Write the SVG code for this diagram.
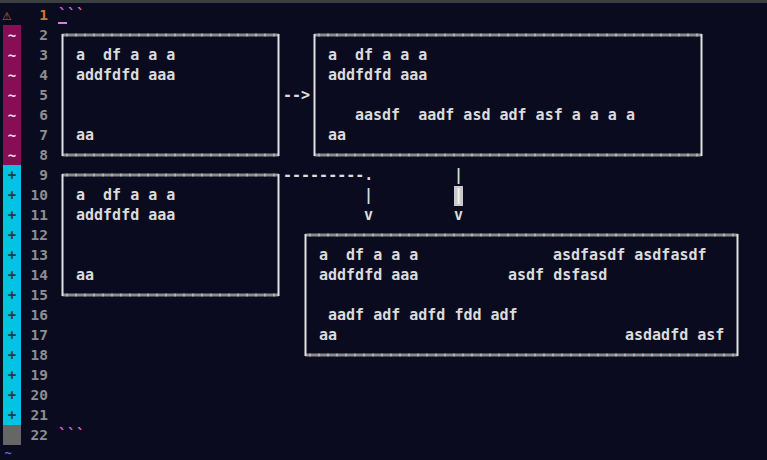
<svg xmlns="http://www.w3.org/2000/svg" width="767" height="460" viewBox="0 0 767 460">
<style>
.t{font-family:"DejaVu Sans Mono","Liberation Mono",monospace;font-weight:bold;font-size:15px;fill:#dcdcdc;white-space:pre}
.ln{font-family:"DejaVu Sans Mono","Liberation Mono",monospace;font-weight:bold;font-size:14.5px;fill:#8e8e8e;text-anchor:end}
.sg{font-family:"DejaVu Sans Mono","Liberation Mono",monospace;font-weight:bold;font-size:14px;text-anchor:middle}
.h{fill:none;stroke:#8a8a8a;stroke-width:3}
.hd{fill:none;stroke:#d6d6d6;stroke-width:3;stroke-dasharray:1 8}
.v{fill:none;stroke:#e2e2e2;stroke-width:2}
.pk{fill:#e463d2}
</style>
<rect x="0" y="0" width="767" height="460" fill="#0a0b1f"/>
<rect x="0" y="0" width="767" height="3" fill="#3c3f40"/>
<g id="gutter">
<text x="2" y="20" font-family="DejaVu Sans,sans-serif" font-size="11" fill="#c86a30">⚠</text>
<rect x="3" y="25" width="18" height="140" fill="#870d55"/>
<rect x="3" y="165" width="18" height="260" fill="#02c3e3"/>
<rect x="3" y="425" width="18" height="20" fill="#666666"/>
<g class="sg" fill="#f0e0ea">
<text x="12" y="40">~</text><text x="12" y="60">~</text><text x="12" y="80">~</text><text x="12" y="100">~</text><text x="12" y="120">~</text><text x="12" y="140">~</text><text x="12" y="160">~</text>
</g>
<g class="sg" fill="#1e3a42">
<text x="12" y="180">+</text><text x="12" y="200">+</text><text x="12" y="220">+</text><text x="12" y="240">+</text><text x="12" y="260">+</text><text x="12" y="280">+</text><text x="12" y="300">+</text><text x="12" y="320">+</text><text x="12" y="340">+</text><text x="12" y="360">+</text><text x="12" y="380">+</text><text x="12" y="400">+</text><text x="12" y="420">+</text>
</g>
<text x="8" y="457" font-family="DejaVu Sans Mono,monospace" font-weight="bold" font-size="12" text-anchor="middle" fill="#5f6fe0">~</text>
<text class="ln" x="48" y="20" style="fill:#d0782e">1</text>
<text class="ln" x="48" y="40">2</text><text class="ln" x="48" y="60">3</text><text class="ln" x="48" y="80">4</text><text class="ln" x="48" y="100">5</text><text class="ln" x="48" y="120">6</text><text class="ln" x="48" y="140">7</text><text class="ln" x="48" y="160">8</text><text class="ln" x="48" y="180">9</text><text class="ln" x="48" y="200">10</text><text class="ln" x="48" y="220">11</text><text class="ln" x="48" y="240">12</text><text class="ln" x="48" y="260">13</text><text class="ln" x="48" y="280">14</text><text class="ln" x="48" y="300">15</text><text class="ln" x="48" y="320">16</text><text class="ln" x="48" y="340">17</text><text class="ln" x="48" y="360">18</text><text class="ln" x="48" y="380">19</text><text class="ln" x="48" y="400">20</text><text class="ln" x="48" y="420">21</text><text class="ln" x="48" y="440">22</text>
</g>
<g id="fence">
<text class="t pk" x="58" y="20">```</text>
<rect x="58" y="22" width="9" height="2" fill="#e07ce0"/>
<text class="t pk" x="58" y="440">```</text>
</g>
<g id="box-a">
<path class="h" d="M62.5 35H278.5M62.5 155H278.5"/>
<path class="hd" d="M66.5 35H275M66.5 155H275"/>
<path class="v" d="M62.5 34V156M278.5 34V156"/>
<text class="t" x="76" y="60">a  df a a a</text>
<text class="t" x="76" y="80">addfdfd aaa</text>
<text class="t" x="76" y="140">aa</text>
</g>
<g id="box-b">
<path class="h" d="M314.5 35H701.5M314.5 155H701.5"/>
<path class="hd" d="M318.5 35H698M318.5 155H698"/>
<path class="v" d="M314.5 34V156M701.5 34V156"/>
<text class="t" x="328" y="60">a  df a a a</text>
<text class="t" x="328" y="80">addfdfd aaa</text>
<text class="t" x="355" y="120">aasdf  aadf asd adf asf a a a a</text>
<text class="t" x="328" y="140">aa</text>
</g>
<g id="box-c">
<path class="h" d="M62.5 175H278.5M62.5 295H278.5"/>
<path class="hd" d="M66.5 175H275M66.5 295H275"/>
<path class="v" d="M62.5 174V296M278.5 174V296"/>
<text class="t" x="76" y="200">a  df a a a</text>
<text class="t" x="76" y="220">addfdfd aaa</text>
<text class="t" x="76" y="280">aa</text>
</g>
<g id="box-d">
<path class="h" d="M305.5 235H737.5M305.5 355H737.5"/>
<path class="hd" d="M309.5 235H734M309.5 355H734"/>
<path class="v" d="M305.5 234V356M737.5 234V356"/>
<text class="t" x="319" y="260">a  df a a a</text>
<text class="t" x="553" y="260">asdfasdf asdfasdf</text>
<text class="t" x="319" y="280">addfdfd aaa</text>
<text class="t" x="508" y="280">asdf dsfasd</text>
<text class="t" x="328" y="320">aadf adf adfd fdd adf</text>
<text class="t" x="319" y="340">aa</text>
<text class="t" x="625" y="340">asdadfd asf</text>
</g>
<g id="connectors">
<text class="t" x="283" y="100">--&gt;</text>
<text class="t" x="283" y="180">---------.</text>
<text class="t" x="364" y="200">|</text>
<text class="t" x="364" y="220">v</text>
<text class="t" x="454" y="180">|</text>
<rect x="454" y="186" width="9" height="20" fill="#c9c9c9"/>
<text class="t" x="454" y="200" style="fill:#f4f4f4">|</text>
<text class="t" x="454" y="220">v</text>
</g>
</svg>
